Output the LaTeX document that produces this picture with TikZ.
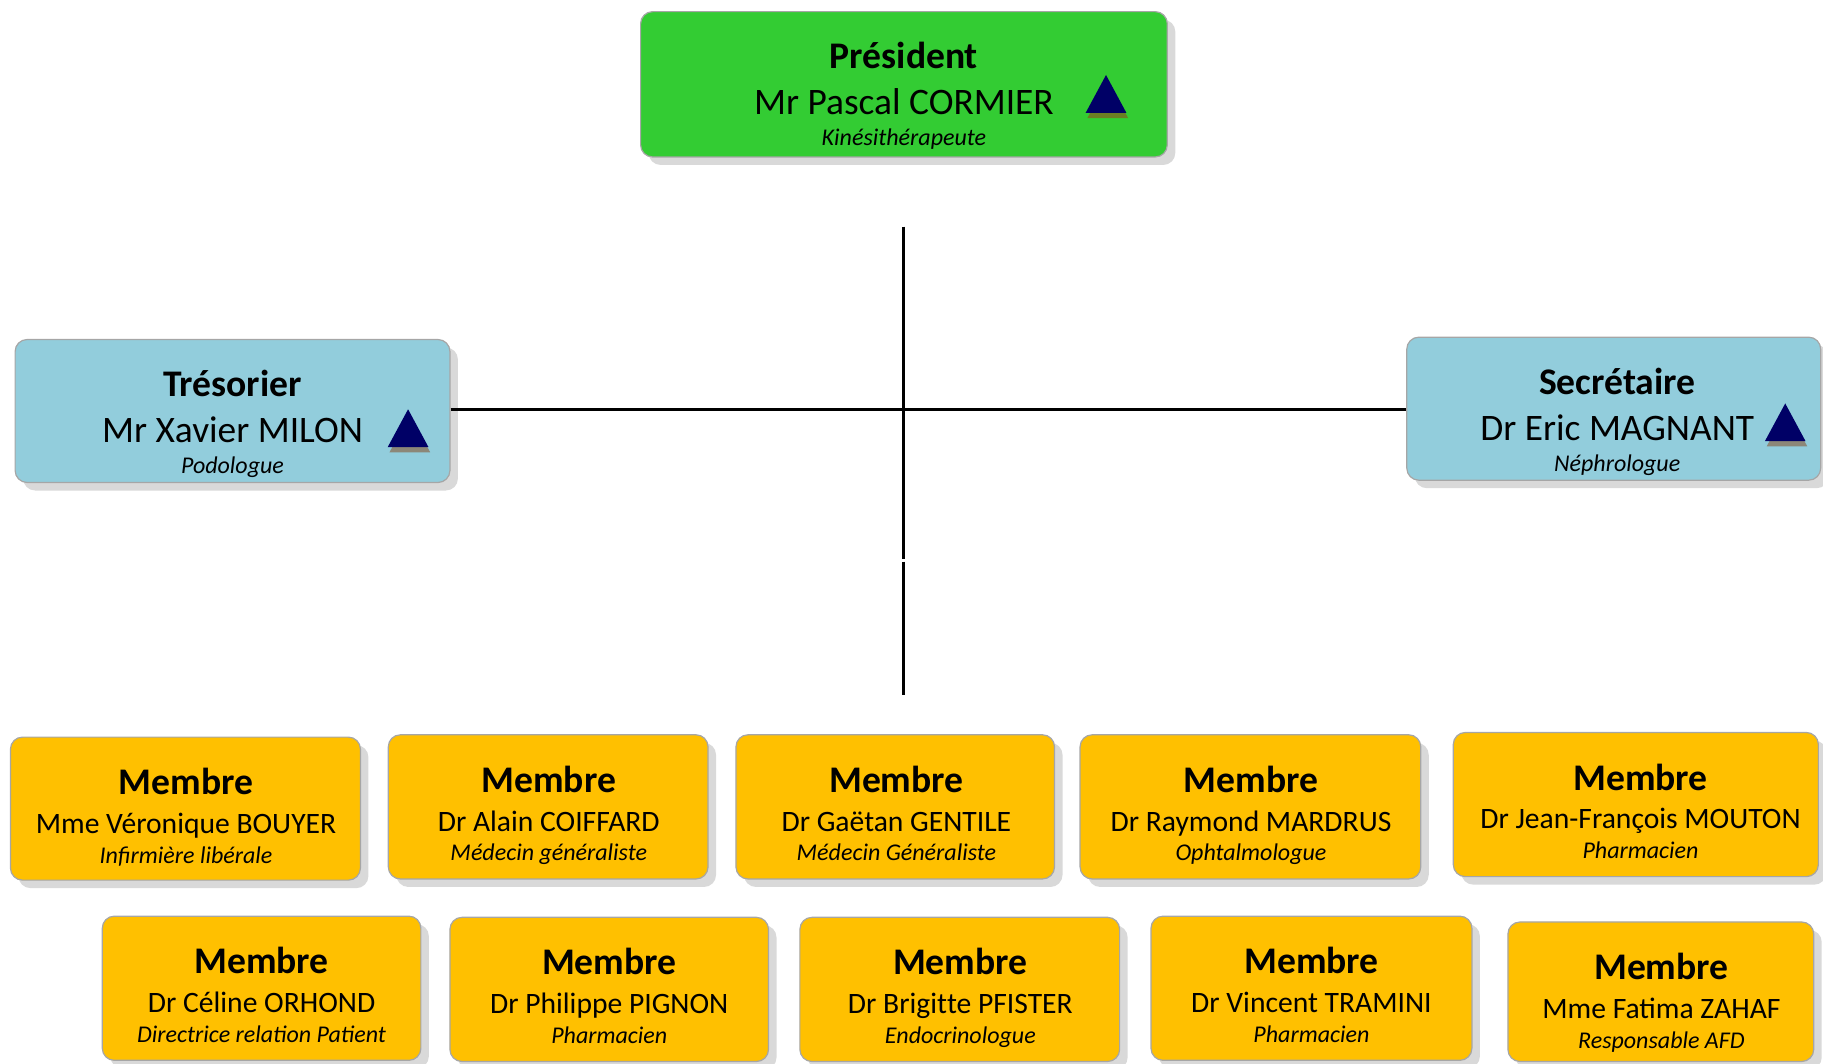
\documentclass[tikz,border=0pt]{standalone}
\usepackage{fontspec}
\setmainfont{Carlito}
\usetikzlibrary{shadows,calc}
\definecolor{presgreen}{HTML}{33CC33}
\definecolor{boardblue}{HTML}{92CDDC}
\definecolor{memgold}{HTML}{FFC000}
\definecolor{navytri}{HTML}{000066}
\definecolor{boxshadow}{HTML}{D9D9D9}
\definecolor{boxline}{HTML}{A6A6A6}
\definecolor{trishadowg}{HTML}{6B7D23}
\definecolor{trishadowb}{HTML}{8C8778}
\tikzset{
  orgbox/.style={draw=boxline, line width=0.6pt, rounded corners=6pt, inner sep=0pt,
    general shadow={shadow xshift=4pt, shadow yshift=-4pt, fill=boxshadow}},
  ttl/.style={font=\fontsize{18.8}{22}\selectfont\bfseries, inner sep=0pt, anchor=base},
  bigname/.style={font=\fontsize{18.7}{22}\selectfont, inner sep=0pt, anchor=base},
  smallname/.style={font=\fontsize{14.8}{17}\selectfont, inner sep=0pt, anchor=base},
  rolet/.style={font=\fontsize{12}{14}\selectfont\itshape, inner sep=0pt, anchor=base},
  link/.style={line width=1.4pt, black},
}
\newcommand{\obox}[6]{%
  \node[orgbox, fill=#2, minimum width={(#5-#3)*0.5813pt}, minimum height={(#6-#4)*0.5813pt}]
    (#1) at ({(#3+#5)/2},{(#4+#6)/2}) {};}
\newcommand{\toptext}[6]{%
  \node[ttl] (#1-t) at (#2,{#3+49}) {#4};
  \node[bigname] (#1-n) at (#2,{#3+88.5}) {#5};
  \node[rolet] (#1-r) at (#2,{#3+115.5}) {#6};}
\newcommand{\memtext}[6]{%
  \node[ttl] (#1-t) at (#2,{#3+49.5}) {#4};
  \node[smallname] (#1-n) at (#2,{#3+83}) {#5};
  \node[rolet] (#1-r) at (#2,{#3+108.5}) {#6};}
\newcommand{\otri}[4]{%
  \fill[#4] ({#2+1.5},{#3+4.5}) -- ({#2-17.5+1.5},{#3+32.5+4.5}) -- ({#2+17.5+1.5},{#3+32.5+4.5}) -- cycle;
  \fill[navytri] (#2,#3) -- ({#2-17.5},{#3+32.5}) -- ({#2+17.5},{#3+32.5}) -- cycle;}
\begin{document}
\begin{tikzpicture}[x=0.5813pt, y=-0.5813pt]
\useasboundingbox (0,0) rectangle (1568,914.3);
% top boxes
\obox{pres}{presgreen}{551}{10}{1004}{135}
\toptext{pres}{777.5}{10}{Président}{Mr Pascal CORMIER}{Kinésithérapeute}
\otri{prestri}{951.3}{64.5}{trishadowg}
\obox{tres}{boardblue}{13}{292}{387}{415}
\toptext{tres}{200}{292}{Trésorier}{Mr Xavier MILON}{Podologue}
\otri{trestri}{351}{352}{trishadowb}
\obox{sec}{boardblue}{1210}{290}{1566}{413}
\toptext{sec}{1391}{290}{Secrétaire}{Dr Eric MAGNANT}{Néphrologue}
\otri{sectri}{1535.5}{347}{trishadowb}
% connectors
\coordinate (hub) at (777,352);
\coordinate (vtop) at (777,195);
\coordinate (vbreak1) at (777,481);
\coordinate (vbreak2) at (777,483);
\coordinate (vbot) at (777,598);
\draw[link] (tres.east |- hub) -- (sec.west |- hub);
\draw[link] (vtop) -- (vbreak1);
\draw[link] (vbreak2) -- (vbot);
% members row 1
\obox{m1}{memgold}{9}{634}{310}{757}
\memtext{m1}{160}{634}{Membre}{Mme Véronique BOUYER}{Infirmière libérale}
\obox{m2}{memgold}{334}{632}{609}{756}
\memtext{m2}{472}{632}{Membre}{Dr Alain COIFFARD}{Médecin généraliste}
\obox{m3}{memgold}{633}{632}{907}{756}
\memtext{m3}{771}{632}{Membre}{Dr Gaëtan GENTILE}{Médecin Généraliste}
\obox{m4}{memgold}{929}{632}{1222}{756}
\memtext{m4}{1076}{632}{Membre}{Dr Raymond MARDRUS}{Ophtalmologue}
\obox{m5}{memgold}{1250}{630}{1564}{754}
\memtext{m5}{1411}{630}{Membre}{Dr Jean-François MOUTON}{Pharmacien}
% members row 2
\obox{m6}{memgold}{88}{788}{362}{912}
\memtext{m6}{225}{788}{Membre}{Dr Céline ORHOND}{Directrice relation Patient}
\obox{m7}{memgold}{387}{789}{661}{913}
\memtext{m7}{524}{789}{Membre}{Dr Philippe PIGNON}{Pharmacien}
\obox{m8}{memgold}{688}{789}{963}{913}
\memtext{m8}{826}{789}{Membre}{Dr Brigit\kern0pt te PFISTER}{Endocrinologue}
\obox{m9}{memgold}{990}{788}{1266}{912}
\memtext{m9}{1128}{788}{Membre}{Dr Vincent TRAMINI}{Pharmacien}
\obox{m10}{memgold}{1297}{793}{1560}{913}
\memtext{m10}{1429}{793}{Membre}{Mme Fatima ZAHAF}{Responsable AFD}
\end{tikzpicture}
\end{document}
